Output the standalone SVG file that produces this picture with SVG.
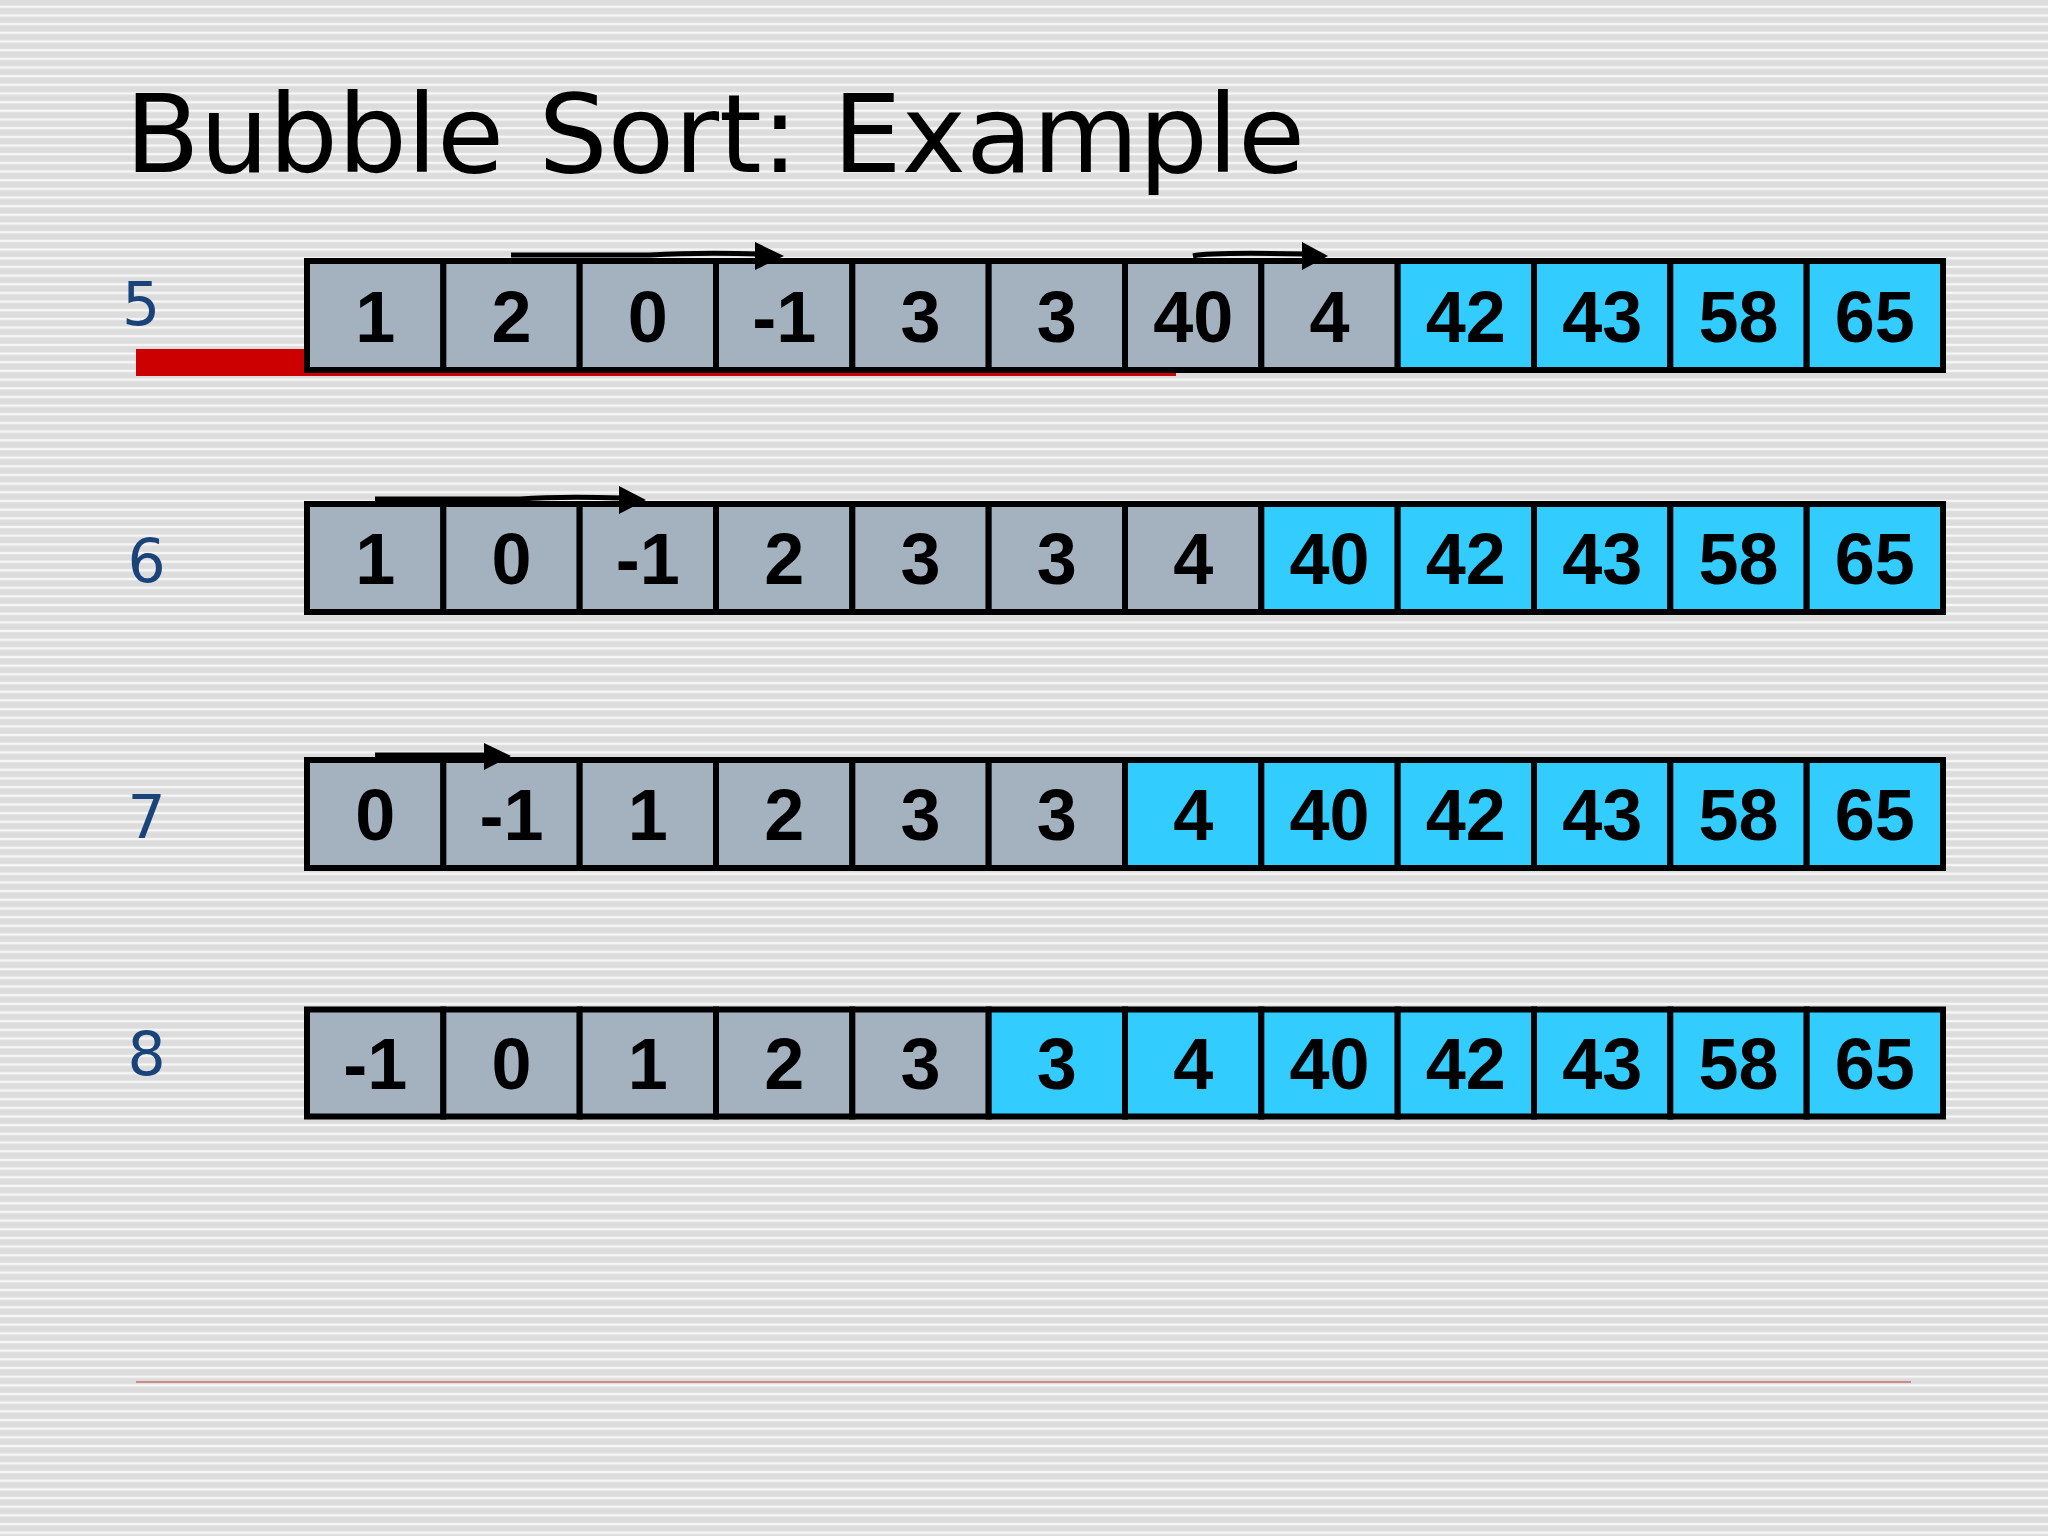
<svg xmlns="http://www.w3.org/2000/svg" width="2048" height="1536" viewBox="0 0 2048 1536">
<defs>
<pattern id="stripes" x="0" y="0" width="16" height="8.67" patternUnits="userSpaceOnUse">
<rect x="0" y="0" width="16" height="8.67" fill="#dcdcdc"/>
<rect x="0" y="5.6" width="16" height="2.4" fill="#f6f6f6"/>
</pattern>
<style>
.cg{fill:#a4b2c0;stroke:#000;stroke-width:6}
.cb{fill:#33ccff;stroke:#000;stroke-width:6}
.num{font-family:"Liberation Sans",Arial,sans-serif;font-weight:bold;font-size:72px;fill:#000;text-anchor:middle}
.lbl{font-family:"DejaVu Sans",sans-serif;font-size:60px;fill:#1a4479}
.arr{stroke:#000;stroke-width:5;fill:none}
.head{fill:#000}
</style>
</defs>
<rect x="0" y="0" width="2048" height="1536" fill="url(#stripes)"/>
<text x="125" y="172" font-family="DejaVu Sans, sans-serif" font-size="109" fill="#000" textLength="1180">Bubble Sort: Example</text>
<rect id="redbar" x="136" y="349" width="1040" height="27" fill="#cc0000"/>
<line x1="136" y1="1382" x2="1911" y2="1382" stroke="#c47070" stroke-width="1.5"/>
<g id="labels">
<text class="lbl" x="122" y="325">5</text>
<text class="lbl" x="127.5" y="582">6</text>
<text class="lbl" x="127.5" y="838">7</text>
<text class="lbl" x="127.5" y="1075">8</text>
</g>
<g id="row1">
<rect class="cg" x="307" y="261" width="136.33" height="109"/>
<rect class="cg" x="443.33" y="261" width="136.33" height="109"/>
<rect class="cg" x="579.67" y="261" width="136.33" height="109"/>
<rect class="cg" x="716" y="261" width="136.33" height="109"/>
<rect class="cg" x="852.33" y="261" width="136.33" height="109"/>
<rect class="cg" x="988.67" y="261" width="136.33" height="109"/>
<rect class="cg" x="1125" y="261" width="136.33" height="109"/>
<rect class="cg" x="1261.33" y="261" width="136.33" height="109"/>
<rect class="cb" x="1397.67" y="261" width="136.33" height="109"/>
<rect class="cb" x="1534" y="261" width="136.33" height="109"/>
<rect class="cb" x="1670.33" y="261" width="136.33" height="109"/>
<rect class="cb" x="1806.67" y="261" width="136.33" height="109"/>
<text class="num" x="375.2" y="342">1</text>
<text class="num" x="511.5" y="342">2</text>
<text class="num" x="647.8" y="342">0</text>
<text class="num" x="784.2" y="342">-1</text>
<text class="num" x="920.5" y="342">3</text>
<text class="num" x="1056.8" y="342">3</text>
<text class="num" x="1193.2" y="342">40</text>
<text class="num" x="1329.5" y="342">4</text>
<text class="num" x="1465.8" y="342">42</text>
<text class="num" x="1602.2" y="342">43</text>
<text class="num" x="1738.5" y="342">58</text>
<text class="num" x="1874.8" y="342">65</text>
</g>
<g id="row2">
<rect class="cg" x="307" y="504" width="136.33" height="108"/>
<rect class="cg" x="443.33" y="504" width="136.33" height="108"/>
<rect class="cg" x="579.67" y="504" width="136.33" height="108"/>
<rect class="cg" x="716" y="504" width="136.33" height="108"/>
<rect class="cg" x="852.33" y="504" width="136.33" height="108"/>
<rect class="cg" x="988.67" y="504" width="136.33" height="108"/>
<rect class="cg" x="1125" y="504" width="136.33" height="108"/>
<rect class="cb" x="1261.33" y="504" width="136.33" height="108"/>
<rect class="cb" x="1397.67" y="504" width="136.33" height="108"/>
<rect class="cb" x="1534" y="504" width="136.33" height="108"/>
<rect class="cb" x="1670.33" y="504" width="136.33" height="108"/>
<rect class="cb" x="1806.67" y="504" width="136.33" height="108"/>
<text class="num" x="375.2" y="584">1</text>
<text class="num" x="511.5" y="584">0</text>
<text class="num" x="647.8" y="584">-1</text>
<text class="num" x="784.2" y="584">2</text>
<text class="num" x="920.5" y="584">3</text>
<text class="num" x="1056.8" y="584">3</text>
<text class="num" x="1193.2" y="584">4</text>
<text class="num" x="1329.5" y="584">40</text>
<text class="num" x="1465.8" y="584">42</text>
<text class="num" x="1602.2" y="584">43</text>
<text class="num" x="1738.5" y="584">58</text>
<text class="num" x="1874.8" y="584">65</text>
</g>
<g id="row3">
<rect class="cg" x="307" y="760" width="136.33" height="108"/>
<rect class="cg" x="443.33" y="760" width="136.33" height="108"/>
<rect class="cg" x="579.67" y="760" width="136.33" height="108"/>
<rect class="cg" x="716" y="760" width="136.33" height="108"/>
<rect class="cg" x="852.33" y="760" width="136.33" height="108"/>
<rect class="cg" x="988.67" y="760" width="136.33" height="108"/>
<rect class="cb" x="1125" y="760" width="136.33" height="108"/>
<rect class="cb" x="1261.33" y="760" width="136.33" height="108"/>
<rect class="cb" x="1397.67" y="760" width="136.33" height="108"/>
<rect class="cb" x="1534" y="760" width="136.33" height="108"/>
<rect class="cb" x="1670.33" y="760" width="136.33" height="108"/>
<rect class="cb" x="1806.67" y="760" width="136.33" height="108"/>
<text class="num" x="375.2" y="840">0</text>
<text class="num" x="511.5" y="840">-1</text>
<text class="num" x="647.8" y="840">1</text>
<text class="num" x="784.2" y="840">2</text>
<text class="num" x="920.5" y="840">3</text>
<text class="num" x="1056.8" y="840">3</text>
<text class="num" x="1193.2" y="840">4</text>
<text class="num" x="1329.5" y="840">40</text>
<text class="num" x="1465.8" y="840">42</text>
<text class="num" x="1602.2" y="840">43</text>
<text class="num" x="1738.5" y="840">58</text>
<text class="num" x="1874.8" y="840">65</text>
</g>
<g id="row4">
<rect class="cg" x="307" y="1009.5" width="136.33" height="107"/>
<rect class="cg" x="443.33" y="1009.5" width="136.33" height="107"/>
<rect class="cg" x="579.67" y="1009.5" width="136.33" height="107"/>
<rect class="cg" x="716" y="1009.5" width="136.33" height="107"/>
<rect class="cg" x="852.33" y="1009.5" width="136.33" height="107"/>
<rect class="cb" x="988.67" y="1009.5" width="136.33" height="107"/>
<rect class="cb" x="1125" y="1009.5" width="136.33" height="107"/>
<rect class="cb" x="1261.33" y="1009.5" width="136.33" height="107"/>
<rect class="cb" x="1397.67" y="1009.5" width="136.33" height="107"/>
<rect class="cb" x="1534" y="1009.5" width="136.33" height="107"/>
<rect class="cb" x="1670.33" y="1009.5" width="136.33" height="107"/>
<rect class="cb" x="1806.67" y="1009.5" width="136.33" height="107"/>
<text class="num" x="375.2" y="1089">-1</text>
<text class="num" x="511.5" y="1089">0</text>
<text class="num" x="647.8" y="1089">1</text>
<text class="num" x="784.2" y="1089">2</text>
<text class="num" x="920.5" y="1089">3</text>
<text class="num" x="1056.8" y="1089">3</text>
<text class="num" x="1193.2" y="1089">4</text>
<text class="num" x="1329.5" y="1089">40</text>
<text class="num" x="1465.8" y="1089">42</text>
<text class="num" x="1602.2" y="1089">43</text>
<text class="num" x="1738.5" y="1089">58</text>
<text class="num" x="1874.8" y="1089">65</text>
</g>
<g id="connectors">
<path class="arr" d="M511,255 L650,255 Q700,252 760,254"/>
<polygon class="head" points="755,242 784,256 755,270"/>
<path class="arr" d="M1193,256 Q1210,252 1306,254"/>
<polygon class="head" points="1302,242 1328,256 1302,270"/>
<path class="arr" d="M375,499 L520,499 Q560,496 622,498"/>
<polygon class="head" points="619,486 646,500 619,514"/>
<path class="arr" d="M375,755 L488,755"/>
<polygon class="head" points="484,743 511,756 484,770"/>
</g>
</svg>
